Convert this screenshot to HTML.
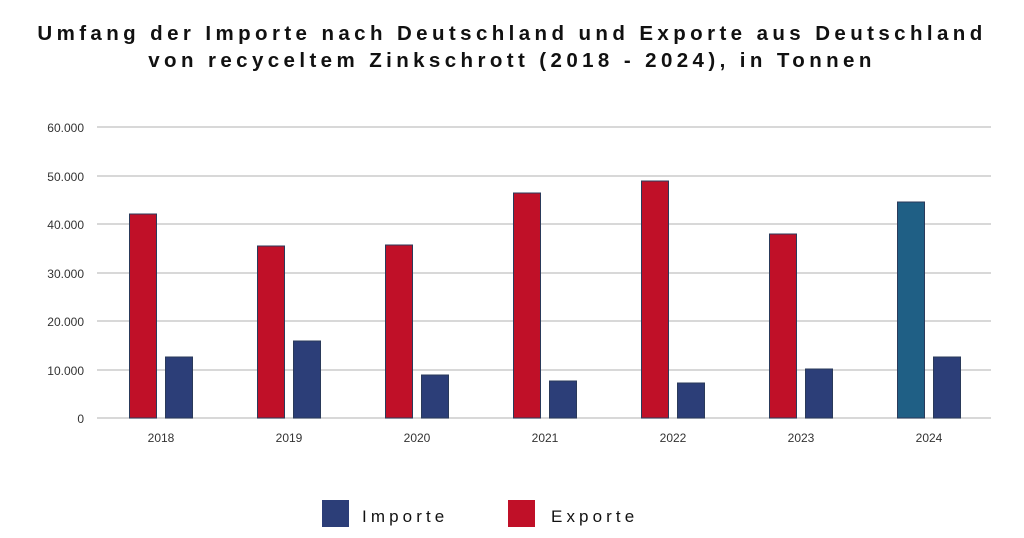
<!DOCTYPE html>
<html><head><meta charset="utf-8"><style>
body{margin:0;width:1024px;height:538px;background:#fff;overflow:hidden;font-family:"Liberation Sans",sans-serif}
.t{position:absolute;left:0;width:1024px;text-align:center;font-size:20.5px;font-weight:bold;letter-spacing:4.4px;color:#111}
</style></head><body>
<div class="t" style="top:22px">Umfang der Importe nach Deutschland und Exporte aus Deutschland</div>
<div class="t" style="top:49px">von recyceltem Zinkschrott (2018 - 2024), in Tonnen</div>
<svg width="1024" height="538" style="position:absolute;left:0;top:0" font-family="Liberation Sans, sans-serif">
<g stroke="#ccc" stroke-width="1.5">
<line x1="97" x2="991" y1="127" y2="127"/><line x1="97" x2="991" y1="176" y2="176"/><line x1="97" x2="991" y1="224" y2="224"/><line x1="97" x2="991" y1="273" y2="273"/><line x1="97" x2="991" y1="321" y2="321"/><line x1="97" x2="991" y1="370" y2="370"/><line x1="97" x2="991" y1="418" y2="418"/>
</g>
<g font-size="12" fill="#333" text-anchor="end">
<text x="84" y="132">60.000</text><text x="84" y="181">50.000</text><text x="84" y="229">40.000</text><text x="84" y="278">30.000</text><text x="84" y="326">20.000</text><text x="84" y="375">10.000</text><text x="84" y="423">0</text>
</g>
<g stroke="#2a3a5a" stroke-width="1">
<rect x="129.5" y="214" width="27" height="204" fill="#c01028"/><rect x="165.5" y="357" width="27" height="61" fill="#2c3e78"/>
<rect x="257.5" y="246" width="27" height="172" fill="#c01028"/><rect x="293.5" y="341" width="27" height="77" fill="#2c3e78"/>
<rect x="385.5" y="245" width="27" height="173" fill="#c01028"/><rect x="421.5" y="375" width="27" height="43" fill="#2c3e78"/>
<rect x="513.5" y="193" width="27" height="225" fill="#c01028"/><rect x="549.5" y="381" width="27" height="37" fill="#2c3e78"/>
<rect x="641.5" y="181" width="27" height="237" fill="#c01028"/><rect x="677.5" y="383" width="27" height="35" fill="#2c3e78"/>
<rect x="769.5" y="234" width="27" height="184" fill="#c01028"/><rect x="805.5" y="369" width="27" height="49" fill="#2c3e78"/>
<rect x="897.5" y="202" width="27" height="216" fill="#1f5f85"/><rect x="933.5" y="357" width="27" height="61" fill="#2c3e78"/>
</g>
<g font-size="12" fill="#333" text-anchor="middle">
<text x="161" y="442">2018</text><text x="289" y="442">2019</text><text x="417" y="442">2020</text><text x="545" y="442">2021</text><text x="673" y="442">2022</text><text x="801" y="442">2023</text><text x="929" y="442">2024</text>
</g>
<rect x="322" y="500" width="27" height="27" fill="#2c3e78"/>
<rect x="508" y="500" width="27" height="27" fill="#c01028"/>
<g font-size="17" fill="#111" letter-spacing="4.1">
<text x="362" y="522">Importe</text><text x="551" y="522">Exporte</text>
</g>
</svg>
</body></html>
